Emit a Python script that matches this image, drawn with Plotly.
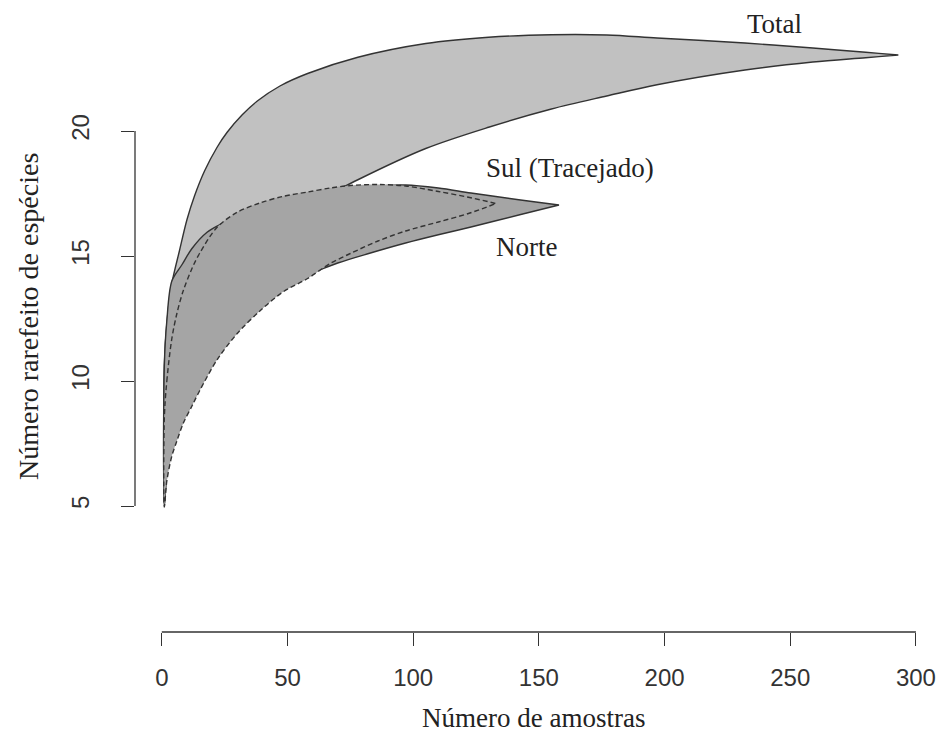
import plotly.graph_objects as go

# ---- data ----
total_x = [1, 2, 4, 7, 10, 13, 17, 22, 26, 32, 38, 47, 58, 78, 105, 130, 155, 177, 197, 232, 259, 280, 293]
total_upper = [10.6, 12.3, 13.9, 15.2, 16.45, 17.4, 18.4, 19.35, 19.95, 20.65, 21.2, 21.8, 22.3, 22.95,
               23.5, 23.75, 23.85, 23.84, 23.72, 23.52, 23.32, 23.15, 23.04]
total_lower = [5.0, 6.3, 7.9, 9.4, 10.6, 11.5, 12.5, 13.6, 14.4, 15.1, 15.7, 16.4, 17.0, 18.05, 19.3,
               20.15, 20.88, 21.4, 21.85, 22.44, 22.76, 22.93, 23.04]

norte_x = [1, 2, 4, 8, 12, 18, 24, 32, 45, 57, 70, 83, 97, 110, 123, 142, 158]
norte_upper = [10.6, 12.4, 14.0, 14.65, 15.3, 15.95, 16.3, 16.65, 17.05, 17.35, 17.6, 17.78, 17.84, 17.72,
               17.52, 17.25, 17.04]
norte_lower = [5.0, 6.5, 7.8, 9.2, 10.2, 11.3, 12.0, 12.7, 13.6, 14.2, 14.72, 15.12, 15.52, 15.85, 16.16,
               16.64, 17.04]

sul_x = [1, 2, 4, 6, 8.5, 12, 15, 22, 30, 39, 48, 58, 67, 75, 86, 97, 110, 122, 133]
sul_upper = [8.5, 10.0, 11.7, 12.7, 13.6, 14.5, 15.1, 16.15, 16.75, 17.12, 17.38, 17.56, 17.72, 17.82,
             17.86, 17.8, 17.58, 17.35, 17.1]
sul_lower = [4.96, 6.0, 7.0, 7.6, 8.3, 9.0, 9.6, 10.85, 11.9, 12.8, 13.55, 14.1, 14.7, 15.1, 15.6, 16.0,
             16.36, 16.7, 17.1]

x_ticks = [0, 50, 100, 150, 200, 250, 300]
y_ticks = [5, 10, 15, 20]

labels = ["Total", "Sul (Tracejado)", "Norte"]
label_x = [243.6, 162.3, 145.1]
label_y = [24.28, 18.52, 15.38]

x_title = "Número de amostras"
y_title = "Número rarefeito de espécies"

LINE = "#333333"
LIGHT = "#c1c1c1"
DARK = "#a5a5a5"
SERIF = "Liberation Serif"
SANS = "Liberation Sans"


def polygon(xs, up, lo):
    px = list(xs) + list(xs[::-1]) + [xs[0]]
    py = list(up) + list(lo[::-1]) + [up[0]]
    return px, py


fig = go.Figure()
for xs, up, lo, fillc, dash in [
    (total_x, total_upper, total_lower, LIGHT, "solid"),
    (norte_x, norte_upper, norte_lower, DARK, "solid"),
    (sul_x, sul_upper, sul_lower, DARK, "5px,3px"),
]:
    px, py = polygon(xs, up, lo)
    fig.add_trace(go.Scatter(
        x=px, y=py, mode="lines", fill="toself", fillcolor=fillc,
        line=dict(color=LINE, width=1.4, dash=dash, shape="spline", smoothing=0.9),
        showlegend=False, hoverinfo="skip",
    ))

for t, lx, ly in zip(labels, label_x, label_y):
    fig.add_annotation(x=lx, y=ly, text=t, showarrow=False,
                       font=dict(family=SERIF, size=27, color="#222222"))

# R-style axis lines spanning only the tick range
fig.add_shape(type="line", xref="x", yref="paper", x0=x_ticks[0], x1=x_ticks[-1], y0=0, y1=0,
              line=dict(color=LINE, width=1.3))
fig.add_shape(type="line", xref="paper", yref="y", x0=0, x1=0, y0=y_ticks[0], y1=y_ticks[-1],
              line=dict(color=LINE, width=1.3))

fig.add_annotation(xref="paper", yref="paper", x=(537 - 135) / 800,
                   y=0, yshift=-86, text=x_title, showarrow=False,
                   font=dict(family=SERIF, size=27, color="#222222"), yanchor="middle")
fig.add_annotation(xref="paper", yref="paper", x=0, xshift=-106, y=(632 - 317) / 622,
                   text=y_title, showarrow=False, textangle=-90,
                   font=dict(family=SERIF, size=28, color="#222222"), xanchor="center")

fig.update_layout(
    width=946, height=733,
    margin=dict(l=135, r=11, t=10, b=101),
    plot_bgcolor="white", paper_bgcolor="white",
    xaxis=dict(range=[-10.66, 305.2], tickvals=x_ticks, ticks="outside", ticklen=13, tickwidth=1.3,
               tickcolor=LINE, showgrid=False, zeroline=False, showline=False,
               ticklabelstandoff=11,
               tickfont=dict(family=SANS, size=24, color="#333333")),
    yaxis=dict(range=[-0.04, 24.84], tickvals=y_ticks, ticks="outside", ticklen=13, tickwidth=1.3,
               tickcolor=LINE, showgrid=False, zeroline=False, showline=False, tickangle=-90,
               ticklabelstandoff=22,
               tickfont=dict(family=SANS, size=24, color="#333333")),
)

fig.write_html("out.html")
